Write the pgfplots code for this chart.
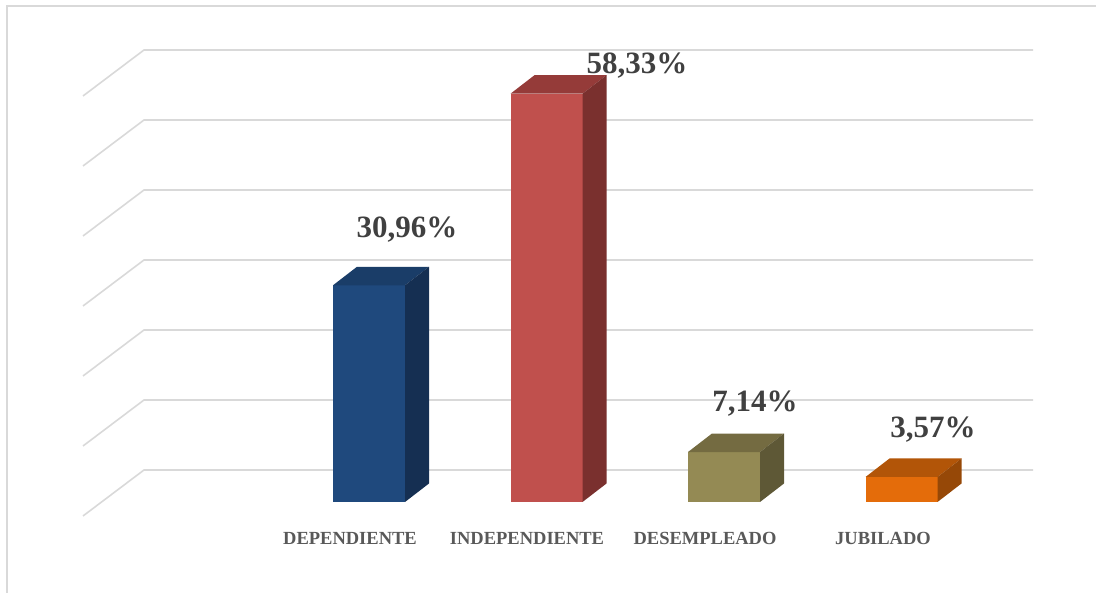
\documentclass[border=0pt]{standalone}
\usepackage{pgfplots}
\pgfplotsset{compat=1.18}
\usepackage{fontspec}
\setmainfont{Liberation Serif}
\definecolor{gridc}{HTML}{D9D9D9}
\definecolor{bF}{HTML}{1F497D}\definecolor{bT}{HTML}{1A3D68}\definecolor{bS}{HTML}{152F52}
\definecolor{rF}{HTML}{C0504D}\definecolor{rT}{HTML}{953B39}\definecolor{rS}{HTML}{7A302E}
\definecolor{oF}{HTML}{948A54}\definecolor{oT}{HTML}{746B41}\definecolor{oS}{HTML}{5E5836}
\definecolor{gF}{HTML}{E46C0A}\definecolor{gT}{HTML}{B25508}\definecolor{gS}{HTML}{964807}
\definecolor{valc}{HTML}{404040}
\definecolor{catc}{HTML}{595959}
\begin{document}
\begin{tikzpicture}
\begin{axis}[
  scale only axis, width=1096bp, height=593bp,
  xmin=0, xmax=1096, ymin=-13, ymax=71.714,
  axis lines=none, clip=false,
]
% frame
\addplot[gridc, line width=1.5bp] coordinates {(7,-13) (7,70.857) (1096,70.857)};
% gridlines (back wall + floor diagonal), values 0..60
\foreach \v in {0,10,20,30,40,50,60}{
  \addplot[gridc, line width=1.6bp] coordinates {(83,\v-2) (144,\v+4.571) (1033,\v+4.571)};
}
% DEPENDIENTE 30.96
\addplot[ybar, bar width=72, bar shift=0pt, fill=bF, draw=none] coordinates {(369,30.96)};
\addplot[fill=bT, draw=none] coordinates {(333,30.96) (357,33.603) (429,33.603) (405,30.96)} -- cycle;
\addplot[fill=bS, draw=none] coordinates {(405,0) (405,30.96) (429,33.603) (429,2.643)} -- cycle;
% INDEPENDIENTE 58.33
\addplot[ybar, bar width=72, bar shift=0pt, fill=rF, draw=none] coordinates {(546.5,58.33)};
\addplot[fill=rT, draw=none] coordinates {(510.5,58.33) (534.5,60.973) (606.5,60.973) (582.5,58.33)} -- cycle;
\addplot[fill=rS, draw=none] coordinates {(582.5,0) (582.5,58.33) (606.5,60.973) (606.5,2.643)} -- cycle;
% DESEMPLEADO 7.14
\addplot[ybar, bar width=72, bar shift=0pt, fill=oF, draw=none] coordinates {(724,7.14)};
\addplot[fill=oT, draw=none] coordinates {(688,7.14) (712,9.783) (784,9.783) (760,7.14)} -- cycle;
\addplot[fill=oS, draw=none] coordinates {(760,0) (760,7.14) (784,9.783) (784,2.643)} -- cycle;
% JUBILADO 3.57
\addplot[ybar, bar width=72, bar shift=0pt, fill=gF, draw=none] coordinates {(901.5,3.57)};
\addplot[fill=gT, draw=none] coordinates {(865.5,3.57) (889.5,6.213) (961.5,6.213) (937.5,3.57)} -- cycle;
\addplot[fill=gS, draw=none] coordinates {(937.5,0) (937.5,3.57) (961.5,6.213) (961.5,2.643)} -- cycle;
% value labels
\begin{scope}[every node/.style={text=valc, font=\fontsize{31bp}{36bp}\selectfont\bfseries, inner sep=0pt}]
\node at (axis cs:407,38.86) {30,96\%};
\node at (axis cs:637,62.29) {58,33\%};
\node at (axis cs:755,14.0) {7,14\%};
\node at (axis cs:933,10.29) {3,57\%};
\end{scope}
% category labels
\begin{scope}[every node/.style={text=catc, font=\fontsize{18.5bp}{22bp}\selectfont\bfseries, inner sep=0pt}]
\node at (axis cs:350,-5.14) {DEPENDIENTE};
\node at (axis cs:527,-5.14) {INDEPENDIENTE};
\node at (axis cs:705,-5.14) {DESEMPLEADO};
\node at (axis cs:883,-5.14) {JUBILADO};
\end{scope}
\end{axis}
\pgfresetboundingbox
\path (current axis.south west) rectangle (current axis.north east);
\end{tikzpicture}
\end{document}
